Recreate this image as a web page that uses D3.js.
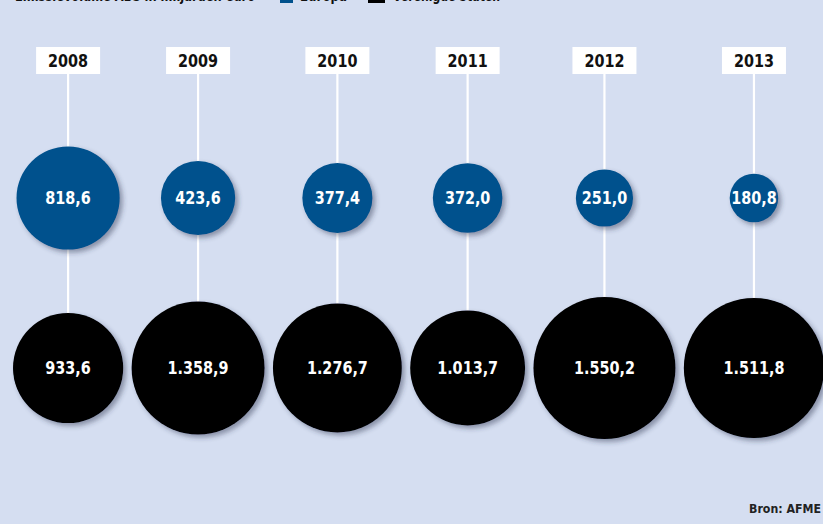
<!DOCTYPE html>
<html>
<head>
<meta charset="utf-8">
<script src="https://cdn.jsdelivr.net/npm/d3@7"></script>
<style>
  html, body { margin: 0; padding: 0; background: #d5def1; }
  svg { display: block; }
  text { font-family: "DejaVu Sans", "Liberation Sans", sans-serif; }
</style>
</head>
<body>
<div id="chart"></div>
<script>
const years = ["2008", "2009", "2010", "2011", "2012", "2013"];
const europa = [818.6, 423.6, 377.4, 372.0, 251.0, 180.8];
const verenigdeStaten = [933.6, 1358.9, 1276.7, 1013.7, 1550.2, 1511.8];
const seriesNames = ["Europa", "Verenigde Staten"];
const seriesColors = ["#00518d", "#000000"];
const title = "Emissievolume ABS in miljarden euro";
const source = "Bron:  AFME";

const width = 823;
const height = 524;
const leftEdge = 13;
const colGap = 8.4;
const squeeze = "scale(0.8,1)"; // condensed look

const nl = d3.formatLocale({ decimal: ",", thousands: ".", grouping: [3], currency: ["€", ""] });
const fmt = nl.format(",.1f");

const svg = d3.select("#chart").append("svg")
  .attr("width", width)
  .attr("height", height);

svg.append("rect").attr("width", width).attr("height", height).attr("fill", "#d5def1");

/* shadow */
const defs = svg.append("defs");
defs.append("filter")
  .attr("id", "shadow")
  .attr("x", "-20%").attr("y", "-20%").attr("width", "140%").attr("height", "140%")
  .append("feDropShadow")
  .attr("dx", 3).attr("dy", 3)
  .attr("stdDeviation", 2.5)
  .attr("flood-color", "#2a3350")
  .attr("flood-opacity", 0.45);

/* scales */
const allValues = europa.concat(verenigdeStaten);
const r = d3.scaleSqrt().domain([0, d3.max(allValues)]).range([0, 71]);

// columns packed side by side by their largest circle
const maxR = years.map((y, i) => r(Math.max(europa[i], verenigdeStaten[i])));
const xPos = [];
maxR.forEach((m, i) => {
  xPos.push(i === 0 ? leftEdge + m : xPos[i - 1] + maxR[i - 1] + colGap + m);
});
const x = d3.scaleOrdinal(years, xPos);
const y = d3.scaleOrdinal(seriesNames, [198, 368]);

const boxTop = 47, boxH = 27, boxW = 64;

const cols = years.map((yr, i) => ({ year: yr, values: [europa[i], verenigdeStaten[i]] }));

/* stems */
svg.append("g").selectAll("line")
  .data(cols)
  .join("line")
  .attr("x1", d => x(d.year))
  .attr("x2", d => x(d.year))
  .attr("y1", boxTop + boxH)
  .attr("y2", d => y(seriesNames[1]))
  .attr("stroke", "#ffffff")
  .attr("stroke-width", 2.2);

/* circles */
const bubbles = svg.append("g").selectAll("g")
  .data(cols.flatMap(c => c.values.map((v, j) => ({ year: c.year, value: v, s: j }))))
  .join("g")
  .attr("transform", d => `translate(${x(d.year)},${y(seriesNames[d.s])})`);

bubbles.append("circle")
  .attr("r", d => r(d.value))
  .attr("fill", d => seriesColors[d.s])
  .attr("filter", "url(#shadow)");

bubbles.append("text")
  .attr("transform", squeeze)
  .attr("text-anchor", "middle")
  .attr("dy", "0.36em")
  .attr("fill", "#ffffff")
  .attr("font-size", 18)
  .attr("font-weight", "bold")
  .text(d => fmt(d.value));

/* year boxes */
const boxes = svg.append("g").selectAll("g")
  .data(cols)
  .join("g")
  .attr("transform", d => `translate(${x(d.year)},${boxTop})`);

boxes.append("rect")
  .attr("x", -boxW / 2)
  .attr("width", boxW)
  .attr("height", boxH)
  .attr("fill", "#ffffff");

boxes.append("text")
  .attr("transform", squeeze)
  .attr("text-anchor", "middle")
  .attr("y", boxH / 2)
  .attr("dy", "0.36em")
  .attr("font-size", 18)
  .attr("font-weight", "bold")
  .attr("fill", "#111")
  .text(d => d.year);

/* title + legend, cut off at the top */
svg.append("text")
  .attr("x", 15).attr("y", 1)
  .attr("font-size", 16)
  .attr("font-weight", "bold")
  .attr("fill", "#111")
  .attr("textLength", 240)
  .attr("lengthAdjust", "spacingAndGlyphs")
  .text(title);

const legendX = [280, 368];
const legendTextW = [47, 107];
const legend = svg.append("g").selectAll("g")
  .data(seriesNames)
  .join("g")
  .attr("transform", (d, i) => `translate(${legendX[i]},0)`);

legend.append("rect")
  .attr("y", -10)
  .attr("width", (d, i) => i === 0 ? 13 : 17)
  .attr("height", 13)
  .attr("fill", (d, i) => seriesColors[i]);

legend.append("text")
  .attr("x", (d, i) => i === 0 ? 20 : 25)
  .attr("y", 1)
  .attr("font-size", 16)
  .attr("font-weight", "bold")
  .attr("fill", "#111")
  .attr("textLength", (d, i) => legendTextW[i])
  .attr("lengthAdjust", "spacingAndGlyphs")
  .text(d => d);

/* source */
svg.append("text")
  .attr("x", 821).attr("y", 513)
  .attr("text-anchor", "end")
  .attr("font-size", 13)
  .attr("font-weight", "bold")
  .attr("fill", "#222")
  .attr("textLength", 72)
  .attr("lengthAdjust", "spacingAndGlyphs")
  .text(source);
</script>
</body>
</html>
